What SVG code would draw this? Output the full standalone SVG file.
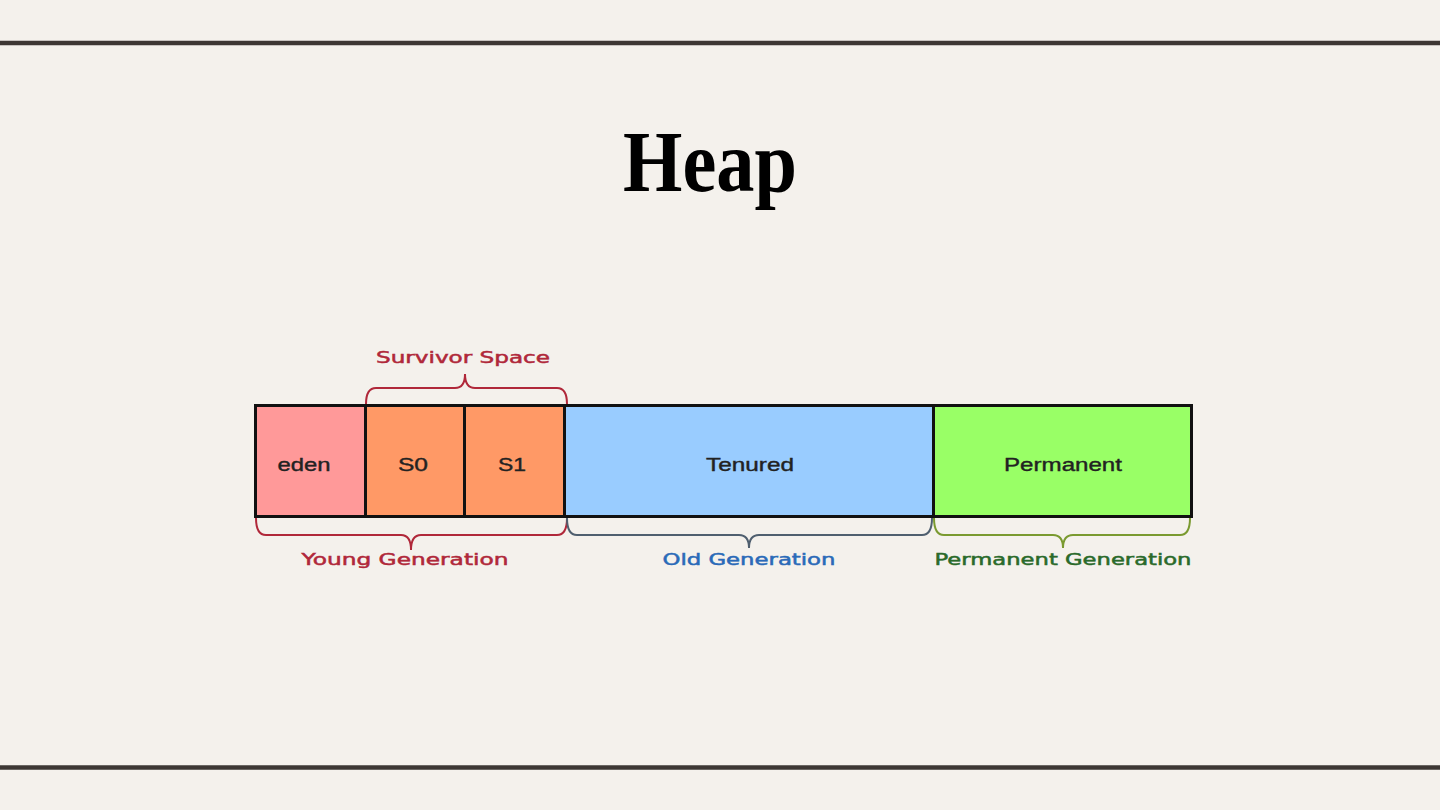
<svg xmlns="http://www.w3.org/2000/svg" width="1440" height="810" viewBox="0 0 1440 810">
<style>
.rule{stroke:#3d3734;stroke-width:4.5}
.box{stroke:#111;stroke-width:3}
.in{font-family:"Liberation Sans","DejaVu Sans",sans-serif;font-size:19px;fill:#222;stroke:#222;stroke-width:0.4;text-anchor:middle}
.lab{font-family:"DejaVu Sans","Liberation Sans",sans-serif;font-size:16px;text-anchor:middle;stroke-width:0.5}
.br{fill:none;stroke-width:2}
</style>
<rect width="1440" height="810" fill="#f4f1ec"/>
<line class="rule" x1="0" y1="43" x2="1440" y2="43"/>
<line class="rule" x1="0" y1="767.5" x2="1440" y2="767.5"/>
<text x="710" y="191" font-family="'Liberation Serif','DejaVu Serif',serif" font-weight="bold" font-size="86" text-anchor="middle" textLength="174" lengthAdjust="spacingAndGlyphs" fill="#000">Heap</text>
<g id="eden"><rect class="box" x="255.5" y="405.5" width="110" height="111" fill="#ff9999"/><text class="in" x="304" y="471" textLength="53" lengthAdjust="spacingAndGlyphs">eden</text></g>
<g id="s0"><rect class="box" x="365.5" y="405.5" width="99" height="111" fill="#ff9966"/><text class="in" x="413" y="471" textLength="30" lengthAdjust="spacingAndGlyphs">S0</text></g>
<g id="s1"><rect class="box" x="464.5" y="405.5" width="100" height="111" fill="#ff9966"/><text class="in" x="512" y="471" textLength="28" lengthAdjust="spacingAndGlyphs">S1</text></g>
<g id="tenured"><rect class="box" x="564.5" y="405.5" width="369" height="111" fill="#99ccff"/><text class="in" x="750" y="471" textLength="88" lengthAdjust="spacingAndGlyphs">Tenured</text></g>
<g id="permanent"><rect class="box" x="933.5" y="405.5" width="258" height="111" fill="#99ff66"/><text class="in" x="1063" y="471" textLength="118" lengthAdjust="spacingAndGlyphs">Permanent</text></g>
<g id="connectors">
<path class="br" stroke="#b0283a" d="M366,404 Q366,388 376,388 L455,388 Q465,388 465,374 Q465,388 475,388 L557,388 Q567,388 567,404"/>
<path class="br" stroke="#b0283a" d="M256,518 Q256,535 266,535 L401,535 Q411,535 411,550 Q411,535 421,535 L557,535 Q567,535 567,518"/>
<path class="br" stroke="#4f5f6f" d="M567,518 Q567,535 577,535 L739,535 Q749,535 749,548 Q749,535 759,535 L922,535 Q932,535 932,518"/>
<path class="br" stroke="#7a9a30" d="M934,518 Q934,535 944,535 L1053,535 Q1063,535 1063,548 Q1063,535 1073,535 L1180,535 Q1190,535 1190,518"/>
</g>
<g id="labels">
<text class="lab" x="463" y="363" fill="#b0283a" stroke="#b0283a" textLength="174" lengthAdjust="spacingAndGlyphs">Survivor Space</text>
<text class="lab" x="405" y="565" fill="#b0283a" stroke="#b0283a" textLength="207" lengthAdjust="spacingAndGlyphs">Young Generation</text>
<text class="lab" x="749" y="565" fill="#2a6ab8" stroke="#2a6ab8" textLength="173" lengthAdjust="spacingAndGlyphs">Old Generation</text>
<text class="lab" x="1063" y="565" fill="#2a6a2a" stroke="#2a6a2a" textLength="257" lengthAdjust="spacingAndGlyphs">Permanent Generation</text>
</g>
</svg>
